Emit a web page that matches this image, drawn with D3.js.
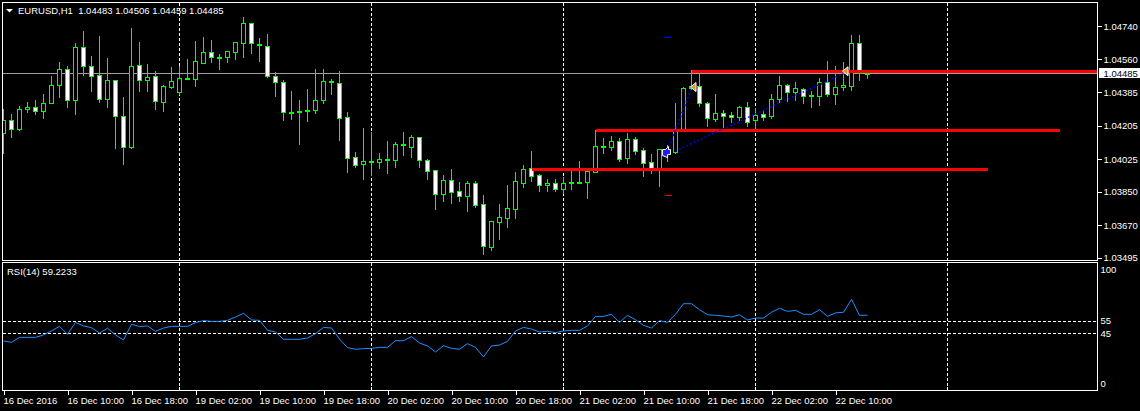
<!DOCTYPE html>
<html><head><meta charset="utf-8">
<script src="https://cdn.jsdelivr.net/npm/d3@7"></script>
<style>
html,body{margin:0;padding:0;background:#000;overflow:hidden}
svg{display:block}
</style></head>
<body><svg id="c" width="1140" height="411"></svg>
<script>
// ---------------- DATA ----------------
const symbol = "EURUSD,H1";
const opens = [1.04164,1.04235,1.04185,1.04293,1.04303,1.04285,1.04328,1.04422,1.04508,1.04341,
1.04626,1.04527,1.04475,1.04350,1.04448,1.04255,1.04092,1.04529,1.04452,1.04470,
1.04334,1.04414,1.04387,1.04459,1.04457,1.04543,1.04599,1.04573,1.04575,1.04602,
1.04650,1.04754,1.04645,1.04631,1.04474,1.04438,1.04276,1.04280,1.04285,1.04289,
1.04344,1.04445,1.04432,1.04251,1.04036,1.03997,1.04013,1.04011,1.04024,1.04022,
1.04106,1.04092,1.04142,1.04019,1.03965,1.03839,1.03911,1.03852,1.03829,1.03895,
1.03783,1.03555,1.03689,1.03711,1.03759,1.03898,1.03976,1.03938,1.03885,1.03895,
1.03866,1.03895,1.03901,1.03904,1.03958,1.04094,1.04092,1.04121,1.04033,1.04132,
1.04073,1.04011,1.03979,1.04062,1.04062,1.04185,1.04405,1.04418,1.04325,1.04242,
1.04272,1.04262,1.04253,1.04303,1.04235,1.04267,1.04258,1.04346,1.04422,1.04387,
1.04400,1.04366,1.04366,1.04438,1.04375,1.04411,1.04419,1.04647,1.04483];
const highs = [1.04298,1.04271,1.04316,1.04337,1.04348,1.04380,1.04477,1.04552,1.04529,1.04654,
1.04719,1.04584,1.04692,1.04574,1.04454,1.04364,1.04735,1.04659,1.04541,1.04502,
1.04427,1.04525,1.04531,1.04567,1.04665,1.04686,1.04669,1.04595,1.04611,1.04653,
1.04794,1.04760,1.04679,1.04701,1.04497,1.04454,1.04396,1.04348,1.04407,1.04514,
1.04514,1.04461,1.04504,1.04284,1.04069,1.04198,1.04176,1.04063,1.04128,1.04121,
1.04176,1.04160,1.04149,1.04031,1.03966,1.03945,1.03977,1.03908,1.03913,1.03913,
1.03838,1.03698,1.03790,1.03893,1.03961,1.03999,1.04074,1.03951,1.03924,1.03924,
1.03934,1.03983,1.04020,1.03960,1.04187,1.04142,1.04155,1.04142,1.04171,1.04149,
1.04089,1.04056,1.04083,1.04106,1.04332,1.04418,1.04509,1.04504,1.04339,1.04380,
1.04293,1.04284,1.04316,1.04337,1.04307,1.04289,1.04379,1.04477,1.04432,1.04445,
1.04414,1.04396,1.04468,1.04557,1.04531,1.04552,1.04697,1.04697,1.04506];
const lows = [1.04056,1.04142,1.04183,1.04280,1.04269,1.04248,1.04326,1.04359,1.04305,1.04269,
1.04477,1.04393,1.04332,1.04305,1.04087,1.03999,1.04087,1.04393,1.04393,1.04294,
1.04284,1.04407,1.04373,1.04455,1.04418,1.04541,1.04547,1.04511,1.04547,1.04563,
1.04571,1.04597,1.04554,1.04467,1.04365,1.04235,1.04241,1.04106,1.04230,1.04271,
1.04328,1.04375,1.04128,1.03956,1.03981,1.03918,1.03940,1.03977,1.03952,1.03984,
1.04047,1.04038,1.03984,1.03918,1.03754,1.03802,1.03791,1.03802,1.03748,1.03770,
1.03516,1.03539,1.03598,1.03662,1.03711,1.03877,1.03906,1.03856,1.03856,1.03856,
1.03842,1.03866,1.03895,1.03818,1.03954,1.04060,1.04074,1.04017,1.04006,1.04053,
1.03936,1.03949,1.03882,1.04017,1.04060,1.04178,1.04402,1.04312,1.04205,1.04231,
1.04194,1.04226,1.04235,1.04205,1.04194,1.04235,1.04248,1.04334,1.04337,1.04343,
1.04328,1.04307,1.04316,1.04364,1.04321,1.04396,1.04396,1.04450,1.04459];
const closes = [1.04235,1.04185,1.04293,1.04303,1.04285,1.04325,1.04422,1.04508,1.04341,1.04626,
1.04527,1.04473,1.04350,1.04448,1.04258,1.04092,1.04524,1.04452,1.04464,1.04336,
1.04416,1.04443,1.04459,1.04460,1.04550,1.04599,1.04571,1.04574,1.04606,1.04652,
1.04754,1.04646,1.04640,1.04469,1.04437,1.04276,1.04280,1.04285,1.04290,1.04343,
1.04445,1.04441,1.04248,1.04033,1.03995,1.04013,1.04015,1.04024,1.04020,1.04106,
1.04104,1.04142,1.04022,1.03963,1.03839,1.03911,1.03850,1.03829,1.03895,1.03780,
1.03560,1.03691,1.03713,1.03761,1.03908,1.03970,1.03936,1.03885,1.03895,1.03863,
1.03895,1.03901,1.03902,1.03960,1.04094,1.04095,1.04121,1.04027,1.04132,1.04067,
1.04006,1.03979,1.04078,1.04078,1.04185,1.04405,1.04419,1.04325,1.04244,1.04271,
1.04259,1.04250,1.04303,1.04226,1.04262,1.04253,1.04348,1.04423,1.04387,1.04405,
1.04366,1.04369,1.04441,1.04375,1.04411,1.04423,1.04647,1.04486,1.04485];
const rsiValues = [39.1,38.0,41.9,41.9,41.9,43.8,46.9,50.5,44.3,53.6,
50.8,49.5,45.3,49.0,43.8,39.9,52.1,50.3,50.8,46.6,
49.2,50.5,50.5,50.5,53.4,55.0,54.4,54.4,55.2,57.8,
60.7,55.5,55.2,47.4,46.1,40.4,40.4,40.4,41.4,44.8,
49.7,49.2,40.6,33.9,32.6,33.1,33.3,34.1,34.1,39.3,
39.3,42.5,37.5,35.2,30.5,35.4,33.3,32.6,37.0,34.1,
26.6,35.2,35.9,38.8,46.9,49.7,48.4,46.1,46.6,45.6,
46.9,47.4,47.4,50.8,58.3,58.3,59.9,53.6,59.1,55.7,
51.3,49.2,55.0,53.6,59.9,68.2,68.2,63.5,59.6,59.1,
58.6,57.8,59.6,55.5,57.0,57.0,61.5,64.6,62.2,63.0,
59.9,59.9,63.5,58.3,61.0,61.5,71.6,59.1,59.2233];
const timeLabels = ["16 Dec 2016","16 Dec 10:00","16 Dec 18:00","19 Dec 02:00","19 Dec 10:00",
"19 Dec 18:00","20 Dec 02:00","20 Dec 10:00","20 Dec 18:00","21 Dec 02:00","21 Dec 10:00",
"21 Dec 18:00","22 Dec 02:00","22 Dec 10:00"];
const timeLabelBars = [0,8,16,24,32,40,48,56,64,72,80,88,96,104];
const daySeparatorBars = [22,46,70,94,118];
const priceTicks = [1.04740,1.04560,1.04385,1.04205,1.04025,1.03850,1.03670,1.03495];
const rsiTicks = [100,55,45,0];
const rsiLevels = [55,45];
const levelPrices = [1.04497,1.04180,1.03974];
const levelStartBars = [86,74,66];
const levelEndBars = [138,132,123];
const trendFromBars = [83,84];
const trendFromPrices = [1.04070,1.04069];
const trendToBars = [86,105];
const trendToPrices = [1.04405,1.04485];
const orangeArrowBars = [86,105];
const orangeArrowPrices = [1.04412,1.04497];

// ---------------- LAYOUT ----------------
const L = 2.5, R = 1097.5, mainTop = 2.5, mainBot = 260.5, rsiTop = 262.5, rsiBot = 390.5;
const FONT = '"Liberation Sans", Arial, sans-serif';
const FS = 9.5;
const LIME = "#00ff00";

const x = d3.scaleLinear().domain([0, 1]).range([3.5, 11.5]);
const y = d3.scaleLinear().domain([1.03495, 1.04740]).range([257.7, 26]);
const yp = v => Math.round(y(v)) + 0.5;
const ry = d3.scaleLinear().domain([0, 100]).range([391, 263]);

const svg = d3.select("#c");
svg.append("rect").attr("width", 1140).attr("height", 411).attr("fill", "#000");

const defs = svg.append("defs");
defs.append("clipPath").attr("id", "mainClip").append("rect")
  .attr("x", 3).attr("y", 3).attr("width", R - 3).attr("height", mainBot - 3);
defs.append("clipPath").attr("id", "rsiClip").append("rect")
  .attr("x", 3).attr("y", rsiTop + 0.5).attr("width", R - 3).attr("height", rsiBot - rsiTop - 1);

// grid (day separators)
const grid = svg.append("g").attr("stroke", "#fff").attr("stroke-dasharray", "3,2").attr("shape-rendering", "crispEdges");
daySeparatorBars.forEach(b => {
  const gx = x(b);
  if (gx > R) return;
  grid.append("line").attr("x1", gx).attr("x2", gx).attr("y1", mainTop).attr("y2", mainBot);
  grid.append("line").attr("x1", gx).attr("x2", gx).attr("y1", rsiTop).attr("y2", rsiBot);
});
// rsi levels
rsiLevels.forEach(v => {
  const ly = Math.round(ry(v)) + 0.5;
  grid.append("line").attr("x1", L).attr("x2", R).attr("y1", ly).attr("y2", ly);
});

// ---------------- MAIN PANEL ----------------
const main = svg.append("g").attr("clip-path", "url(#mainClip)");

// bid line
const bidY = yp(closes[closes.length - 1]);
main.append("line").attr("x1", L).attr("x2", R).attr("y1", bidY).attr("y2", bidY)
  .attr("stroke", "#a0a0a0").attr("shape-rendering", "crispEdges");

// candles
const data = opens.map((o, i) => ({ i, o, h: highs[i], l: lows[i], c: closes[i] }));
const cg = main.append("g").attr("shape-rendering", "crispEdges");
cg.selectAll("line.wick").data(data).join("line").attr("class", "wick")
  .attr("x1", d => x(d.i)).attr("x2", d => x(d.i))
  .attr("y1", d => yp(d.h)).attr("y2", d => yp(d.l))
  .attr("stroke", LIME);
cg.selectAll("rect.body").data(data).join("rect").attr("class", "body")
  .attr("x", d => x(d.i) - 2).attr("width", 4)
  .attr("y", d => yp(Math.max(d.o, d.c)))
  .attr("height", d => Math.max(1, yp(Math.min(d.o, d.c)) - yp(Math.max(d.o, d.c))))
  .attr("fill", d => d.c >= d.o ? "#000" : "#fff")
  .attr("stroke", LIME);

// horizontal levels (red)
levelPrices.forEach((p, k) => {
  const ly = yp(p);
  main.append("line").attr("x1", x(levelStartBars[k])).attr("x2", Math.min(R, x(levelEndBars[k])))
    .attr("y1", ly).attr("y2", ly).attr("stroke", "#ff0000").attr("stroke-width", 3)
    .attr("shape-rendering", "crispEdges");
});

// blue dotted trend lines
trendFromBars.forEach((b, k) => {
  main.append("line").attr("x1", x(b)).attr("y1", y(trendFromPrices[k]))
    .attr("x2", x(trendToBars[k])).attr("y2", y(trendToPrices[k]))
    .attr("stroke", "#0000ff").attr("stroke-width", 1.6).attr("stroke-dasharray", "1.6,2.4");
});

// small marks at bar 83
main.append("line").attr("x1", x(83) - 4).attr("x2", x(83) + 3).attr("y1", yp(1.04681)).attr("y2", yp(1.04681))
  .attr("stroke", "#0000ff").attr("shape-rendering", "crispEdges");
main.append("line").attr("x1", x(83) - 3).attr("x2", x(83) + 4).attr("y1", yp(1.03832)).attr("y2", yp(1.03832))
  .attr("stroke", "#ff0000").attr("shape-rendering", "crispEdges");

// blue arrow icon
main.append("path").attr("transform", `translate(${x(83) - 1},${y(1.04060)})`)
  .attr("d", "M-4,3 L-4,-3 L-1,-3 L2,-6 L2,-3 L4,-3 L4,2 L1,2 L1,5 Z")
  .attr("fill", "#1a1aff").attr("stroke", "#fff").attr("stroke-width", 1);

// orange arrows
orangeArrowBars.forEach((b, k) => {
  main.append("path").attr("transform", `translate(${x(b) + 2},${y(orangeArrowPrices[k])})`)
    .attr("d", "M-3,0 L2.5,-4.5 L2.5,4.5 Z")
    .attr("fill", "#e09030").attr("stroke", "#fff").attr("stroke-width", 1);
});

// header
svg.append("path").attr("d", "M6,9 L13,9 L9.5,12.5 Z").attr("fill", "#fff");
const last = data.length - 1;
svg.append("text").attr("x", 18).attr("y", 14).attr("fill", "#fff")
  .attr("font-family", FONT).attr("font-size", FS).attr("xml:space", "preserve")
  .text(`${symbol}  ${opens[last].toFixed(5)} ${highs[last].toFixed(5)} ${lows[last].toFixed(5)} ${closes[last].toFixed(5)}`);

// ---------------- RSI PANEL ----------------
const rsiLine = d3.line().x((d, i) => x(i)).y(d => ry(d));
svg.append("g").attr("clip-path", "url(#rsiClip)").append("path")
  .attr("d", rsiLine(rsiValues)).attr("fill", "none").attr("stroke", "#1e90ff").attr("stroke-width", 1);
svg.append("text").attr("x", 7).attr("y", 275).attr("fill", "#fff")
  .attr("font-family", FONT).attr("font-size", FS)
  .text(`RSI(14) ${rsiValues[last].toFixed(4)}`);

// ---------------- FRAMES ----------------
const frame = svg.append("g").attr("fill", "none").attr("stroke", "#fff").attr("shape-rendering", "crispEdges");
frame.append("rect").attr("x", L).attr("y", mainTop).attr("width", R - L).attr("height", mainBot - mainTop);
frame.append("rect").attr("x", L).attr("y", rsiTop).attr("width", R - L).attr("height", rsiBot - rsiTop);

// ---------------- AXES ----------------
function styleAxis(g) {
  g.select(".domain").remove();
  g.attr("font-family", FONT).attr("font-size", FS);
  g.selectAll("line").attr("stroke", "#fff").attr("shape-rendering", "crispEdges");
  g.selectAll("text").attr("fill", "#fff");
}
const pAxis = d3.axisRight(y).tickValues(priceTicks).tickSize(4).tickPadding(2).tickFormat(d3.format(".5f"));
svg.append("g").attr("transform", `translate(${R},0)`).call(pAxis).call(styleAxis);

// current price box
const cp = closes[last];
svg.append("rect").attr("x", 1099).attr("y", bidY - 5.5).attr("width", 41).attr("height", 10).attr("fill", "#fff");
svg.append("text").attr("x", 1103.5).attr("y", bidY + 3.5).attr("fill", "#000")
  .attr("font-family", FONT).attr("font-size", FS).text(cp.toFixed(5));

const rAxis = d3.axisRight(ry).tickValues(rsiTicks).tickSize(0).tickPadding(3).tickFormat(d3.format("d"));
svg.append("g").attr("transform", `translate(${R},0)`).call(rAxis).call(styleAxis)
  .call(g => g.selectAll(".tick text").attr("y", d => {
    const p = ry(d); const c = Math.max(rsiTop + 7, Math.min(rsiBot - 7.5, p)); return c - p;
  }));

const tAxis = d3.axisBottom(x).tickValues(timeLabelBars).tickSize(4)
  .tickFormat((d, i) => timeLabels[i]);
svg.append("g").attr("transform", `translate(0,${rsiBot})`).call(tAxis).call(styleAxis)
  .call(g => g.selectAll(".tick text").attr("text-anchor", "start").attr("x", -0.5).attr("dy", null).attr("y", 13.5));

// small marks at day separators on bottom edge
daySeparatorBars.forEach(b => {
  if (x(b) > R) return;
  svg.append("line").attr("x1", x(b)).attr("x2", x(b)).attr("y1", rsiBot - 4).attr("y2", rsiBot)
    .attr("stroke", "#fff").attr("shape-rendering", "crispEdges");
});
</script>
</body></html>
